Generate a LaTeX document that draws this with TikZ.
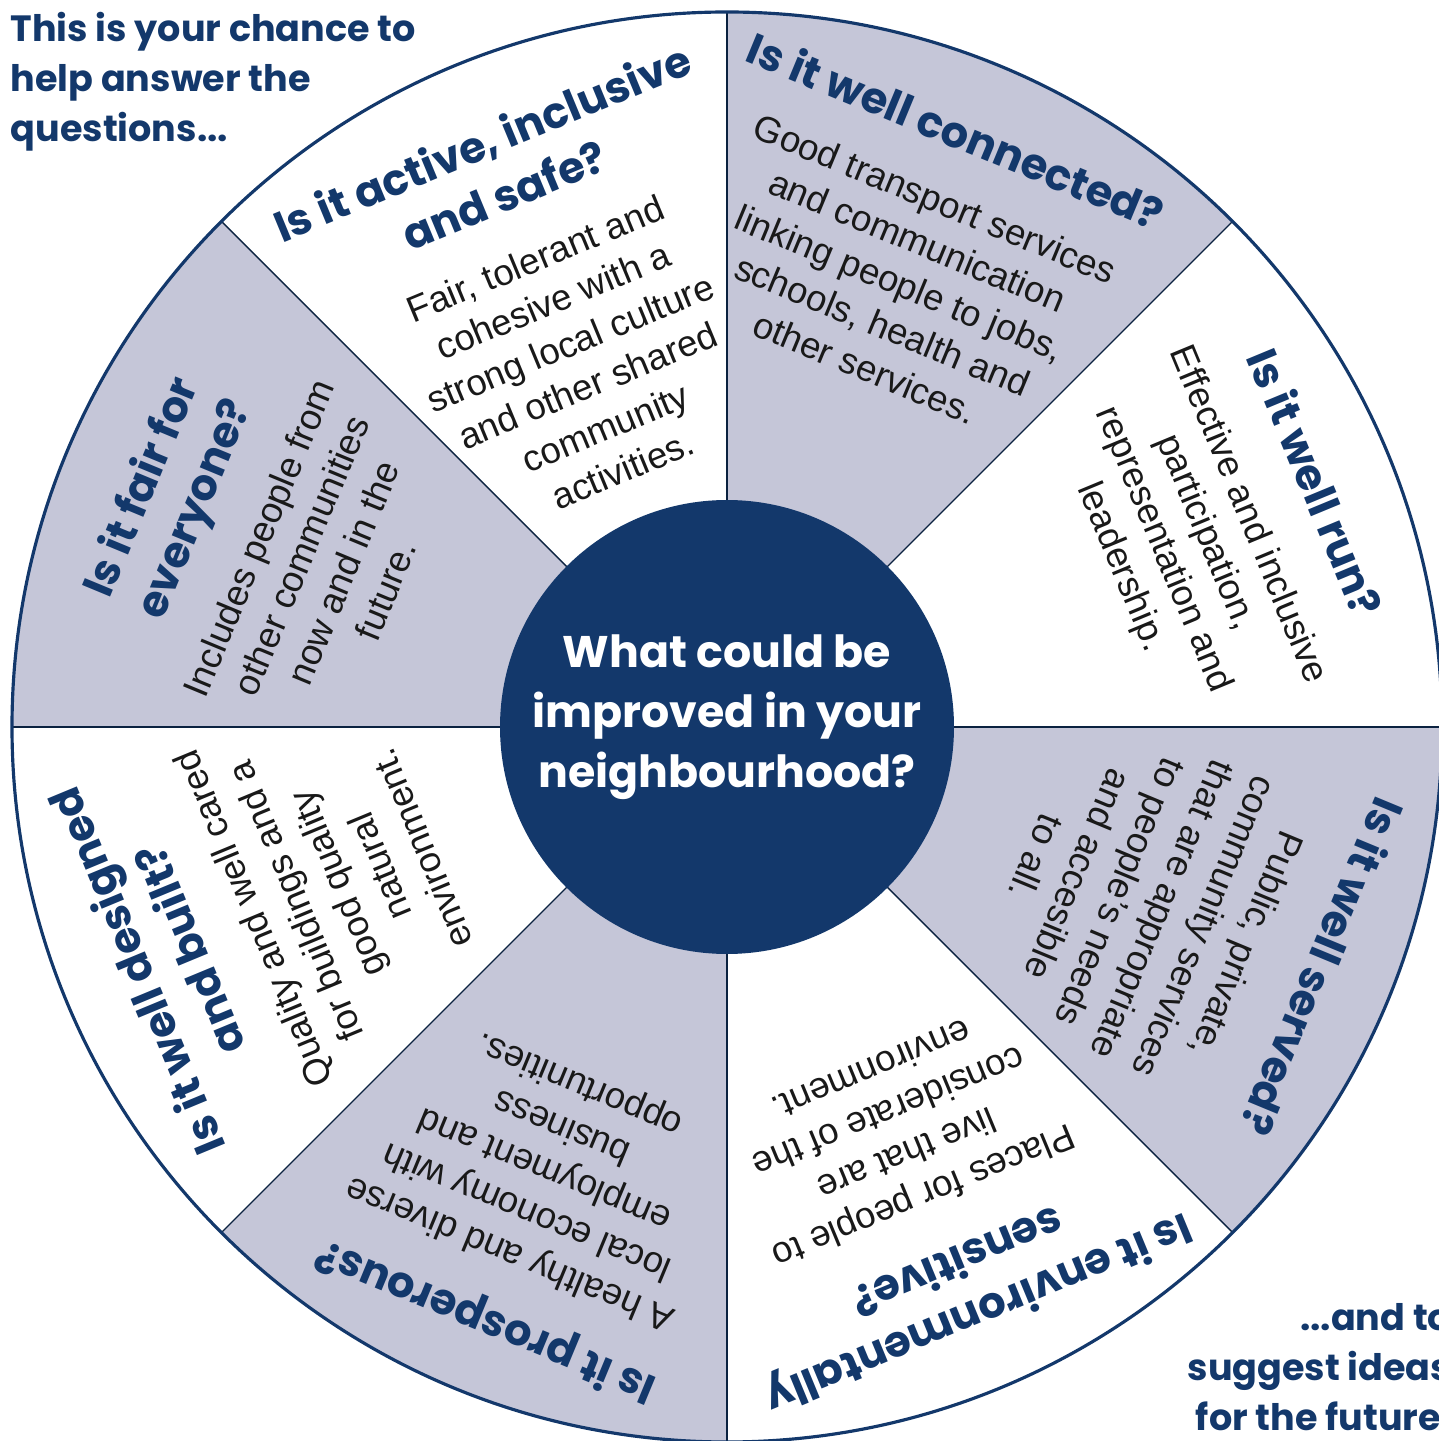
\documentclass[tikz,border=0pt]{standalone}
\usepackage{fontspec}
\setmainfont{Liberation Sans}
\newfontfamily\headfont{Poppins}
\usetikzlibrary{positioning}
\definecolor{navy}{HTML}{13386B}
\definecolor{lilac}{HTML}{C5C6D8}
\tikzset{
  ask/.style={text=navy, font=\headfont\bfseries\fontsize{12.3}{16.2}\selectfont, align=center, inner sep=0pt},
  blurb/.style={text=black!90, font=\fontsize{10.4}{13}\selectfont, align=center, inner sep=0pt},
  spoke/.style={draw=navy!60!black, line width=0.4pt},
  corner/.style={text=navy, font=\headfont\bfseries\fontsize{10.4}{14.2}\selectfont, inner sep=0pt},
}

\begin{document}
\begin{tikzpicture}
\useasboundingbox (-7.27,-7.14) rectangle (7.11,7.27);

% wheel
\foreach \a in {45,135,-45,-135}
  \fill[lilac] (0,0) -- (\a:7.15) arc (\a:\a+45:7.15) -- cycle;
\foreach \a in {0,45,...,315}
  \draw[spoke] (0,0) -- (\a:7.15);
\draw[navy, line width=0.9pt] (0,0) circle (7.15);

\node[circle, fill=navy, minimum size=4.54cm, inner sep=0pt] (hub) at (0,0) {};
\node[text=white, font=\headfont\bfseries\fontsize{12.6}{17}\selectfont, align=center] (hubtxt) at (0,0.1)
  {What could be\\improved in your\\neighbourhood?};

% questions
\node[ask, rotate=-22.5] (connQ) at (2.29,5.97) {Is it well connected?};
\node[blurb, rotate=-22.5] (connB) at (1.73,4.44)
  {Good transport services\\and communication\\linking people to jobs,\\schools, health and\\other services.};

\node[ask, rotate=-67.5] (runQ) at (5.89,2.45) {Is it well run?};
\node[blurb, rotate=-67.5] (runB) at (4.57,1.86)
  {Effective and inclusive\\participation,\\representation and\\leadership.};

\node[ask, rotate=-112.5] (servQ) at (5.96,-2.40) {Is it well served?};
\node[blurb, rotate=-112.5] (servB) at (4.15,-1.74)
  {Public, private,\\community services\\that are appropriate\\to people’s needs\\and accesible\\to all.};

\node[ask, rotate=-157.5] (envQ) at (2.42,-5.63) {Is it environmentally\\sensitive?};
\node[blurb, rotate=-157.5] (envB) at (1.71,-4.07)
  {Places for people to\\live that are\\considerate of the\\environment.};

\node[ask, rotate=157.5] (prosQ) at (-2.41,-5.93) {Is it prosperous?};
\node[blurb, rotate=157.5] (prosB) at (-1.82,-4.41)
  {A healthy and diverse\\local economy with\\employment and\\business\\opportunities.};

\node[ask, rotate=112.5] (desQ) at (-5.65,-2.34) {Is it well designed\\and built?};
\node[blurb, rotate=112.5] (desB) at (-3.90,-1.57)
  {Quality and well cared\\for buildings and a\\good quality\\natural\\environment.};

\node[ask, rotate=67.5] (fairQ) at (-5.57,2.28) {Is it fair for\\everyone?};
\node[blurb, rotate=67.5] (fairB) at (-4.05,1.63)
  {Includes people from\\other communities\\now and in the\\future.};

\node[ask, rotate=22.5] (actQ) at (-2.34,5.59) {Is it active, inclusive\\and safe?};
\node[blurb, rotate=22.5] (actB) at (-1.48,3.63)
  {Fair, tolerant and\\cohesive with a\\strong local culture\\and other shared\\community\\activities.};

% corners
\node[corner, align=left, anchor=north west] (intro) at (-7.17,7.15)
  {This is your chance to\\help answer the\\questions...};
\node[corner, align=right, anchor=north west] (outro) at (4.60,-5.76)
  {...and to\\suggest ideas\\for the future.};
\end{tikzpicture}
\end{document}
